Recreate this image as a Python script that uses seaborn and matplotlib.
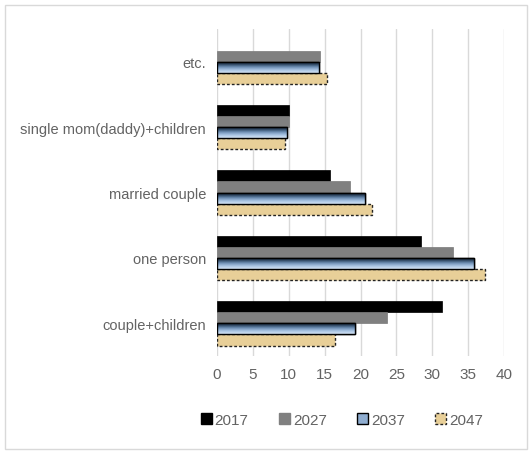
import numpy as np
import pandas as pd
import matplotlib
matplotlib.use("Agg")
import matplotlib.pyplot as plt
import seaborn as sns
from matplotlib.patches import Rectangle, Patch

categories = ["etc.", "single mom(daddy)+children", "married couple", "one person", "couple+children"]
years = ["2017", "2027", "2037", "2047"]
v2017 = [np.nan, 10.0, 15.8, 28.4, 31.4]
v2027 = [14.3, 10.0, 18.6, 32.9, 23.7]
v2037 = [14.2, 9.8, 20.6, 35.8, 19.3]
v2047 = [15.4, 9.5, 21.6, 37.3, 16.4]
xticks = [0, 5, 10, 15, 20, 25, 30, 35, 40]

rows = []
for yr, vals in zip(years, [v2017, v2027, v2037, v2047]):
    for c, v in zip(categories, vals):
        rows.append({"category": c, "year": yr, "value": v})
df = pd.DataFrame(rows)

sns.set_theme(style="white")
plt.rcParams['font.family'] = ['Liberation Sans Narrow', 'Liberation Sans', 'DejaVu Sans']
text_color = "#636363"

fig = plt.figure(figsize=(5.29, 4.52), dpi=100)
ax = fig.add_axes([217/529, 1-357/452, (504-217)/529, (357-30)/452])

palette = {"2017": "#000000", "2027": "#808080", "2037": "#b7cde6", "2047": "#e8cf98"}
sns.barplot(data=df, y="category", x="value", hue="year", order=categories,
            hue_order=years, palette=palette, orient="h", width=0.68,
            saturation=1, ax=ax, legend=False)

# styling for each series
for i, cont in enumerate(ax.containers):
    for p in cont.patches:
        if i == 0:
            p.set_edgecolor("#000000"); p.set_linewidth(0.5)
        elif i == 1:
            p.set_edgecolor("#7a7a7a"); p.set_linewidth(0.5)
        elif i == 2:
            p.set_edgecolor("#000000"); p.set_linewidth(1.0)
        else:
            p.set_edgecolor("#222222"); p.set_linewidth(1.0); p.set_linestyle((0, (2, 1.5)))

# gradient fill for 2037
grad_cmap = matplotlib.colors.LinearSegmentedColormap.from_list(
    "g", ["#0c141e", "#2a425c", "#6f90b6", "#aac5e4", "#d4e4f5"])
grad = np.linspace(0, 1, 64).reshape(-1, 1)
for p in ax.containers[2].patches:
    x0, y0 = p.get_x(), p.get_y()
    w, h = p.get_width(), p.get_height()
    if not np.isfinite(w) or w == 0:
        continue
    im = ax.imshow(grad, cmap=grad_cmap, aspect="auto",
                   extent=[x0, x0 + w, y0 + h, y0], origin="upper", zorder=p.get_zorder() + 0.1,
                   interpolation="bicubic")
    im.set_clip_path(p)
    edge = Rectangle((x0, y0), w, h, fill=False, edgecolor="#000000", linewidth=1.0,
                     zorder=p.get_zorder() + 0.2)
    ax.add_patch(edge)

ax.set_xlim(0, 40)
ax.set_ylim(4.5, -0.5)
ax.set_xticks(xticks)
ax.set_xticklabels([str(t) for t in xticks])
ax.grid(axis="x", color="#d9d9d9", linewidth=1.0)
ax.set_axisbelow(True)
for s in ax.spines.values():
    s.set_visible(False)
ax.set_xlabel(""); ax.set_ylabel("")
ax.tick_params(axis="x", colors=text_color, labelsize=11, length=0, pad=8)
ax.tick_params(axis="y", colors=text_color, labelsize=10.5, length=0, pad=8)

handles = [
    Patch(facecolor="#000000", edgecolor="#000000"),
    Patch(facecolor="#808080", edgecolor="#808080"),
    Patch(facecolor="#8fadd0", edgecolor="#000000", linewidth=1.0),
    Patch(facecolor="#e8cf98", edgecolor="#222222", linewidth=1.0, linestyle=(0, (2, 1.5))),
]
leg = fig.legend(handles, years, loc="center", ncol=4, bbox_to_anchor=(342/529, 1-421/452),
                 frameon=False, handlelength=0.7, handleheight=0.7, handletextpad=0.2,
                 columnspacing=2.0, fontsize=11)
for t in leg.get_texts():
    t.set_color(text_color)

# outer chart border
fig.add_artist(Rectangle((5/529, 2/452), 522/529, 444/452, transform=fig.transFigure,
                         fill=False, edgecolor="#d9d9d9", linewidth=1.0))

fig.savefig("out.png", dpi=100)
